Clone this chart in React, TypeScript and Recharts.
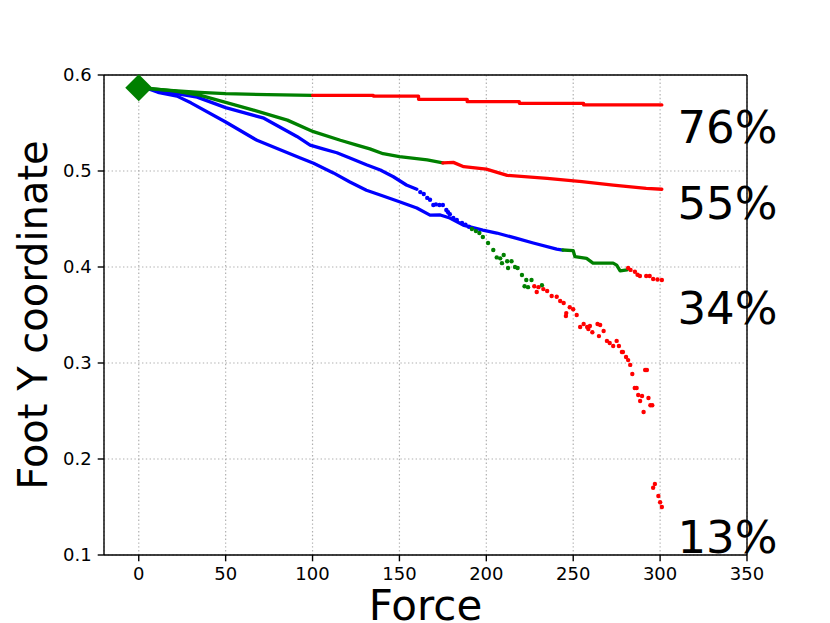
import React from 'react';
import {
  ComposedChart,
  Line,
  Scatter,
  XAxis,
  YAxis,
  CartesianGrid,
  ReferenceLine,
  Label,
} from 'recharts';

// ---------- axis ticks ----------
const xTicks = [0, 50, 100, 150, 200, 250, 300, 350];
const yTicks = [0.1, 0.2, 0.3, 0.4, 0.5, 0.6];

// ---------- start marker ----------
const startPoint: [number, number][] = [[0, 0.5868]];

// ---------- curve A (76%) ----------
const aGreen: [number, number][] = [
  [5, 0.586], [18, 0.584], [35, 0.582], [50, 0.5805], [74, 0.5795], [100, 0.5788],
];
const aRed: [number, number][] = [
  [100, 0.5788], [135, 0.578], [161, 0.5747], [189, 0.5722], [219, 0.5705], [256, 0.5688], [301, 0.5688],
];

// ---------- curve B (55%) ----------
const bGreen: [number, number][] = [
  [5, 0.586], [20, 0.5835], [35, 0.579], [49, 0.572], [66, 0.5635], [85.5, 0.553], [100.5, 0.541],
  [116, 0.532], [125.5, 0.527], [133, 0.523], [140.6, 0.518], [150, 0.515], [166, 0.5115], [175, 0.5085],
];
const bRed: [number, number][] = [
  [175, 0.5085], [181, 0.509], [187, 0.5045], [200, 0.502], [212, 0.4955], [235, 0.4924],
  [255, 0.489], [273, 0.4854], [292, 0.482], [301, 0.481],
];

// ---------- curve C (34%) ----------
const cBlue: [number, number][] = [
  [5, 0.586], [11, 0.582], [22, 0.578], [30, 0.571], [50, 0.551], [68, 0.532], [93, 0.5135],
  [100.6, 0.508], [112, 0.498], [121.5, 0.4885], [131, 0.48], [140.6, 0.474], [150, 0.468],
  [160, 0.4615], [167.6, 0.454], [173.5, 0.4542], [179, 0.451], [186.7, 0.4437], [190.6, 0.4417],
  [198, 0.4385], [206, 0.4354], [217, 0.43], [227, 0.425], [240.5, 0.4187], [244, 0.4177],
];
const cGreen: [number, number][] = [
  [244, 0.4177], [250, 0.417], [251, 0.4107], [257.7, 0.409], [261.4, 0.404], [273, 0.404],
  [275, 0.402], [277, 0.396], [281, 0.397],
];
const cRedDots: [number, number][] = [
  [281.6, 0.399], [283, 0.397], [285.5, 0.395], [287, 0.392], [288.4, 0.3906], [292, 0.3906],
  [294, 0.3906], [296, 0.3875], [298.5, 0.387], [301, 0.3865],
];

// ---------- curve D (13%) ----------
const dBlue: [number, number][] = [
  [5, 0.586], [20, 0.581], [33.6, 0.577], [50, 0.566], [72, 0.555], [91, 0.536], [98.6, 0.527],
  [106, 0.523], [114, 0.519], [121.5, 0.5135], [131, 0.5065], [139, 0.501], [146.5, 0.494],
  [154, 0.4854], [160, 0.481],
];
const dBlueDots: [number, number][] = [
  [162, 0.478], [164, 0.476], [166, 0.472], [167.6, 0.47], [169.5, 0.4646], [171, 0.4652],
  [173, 0.4646], [175, 0.4646], [177, 0.4594], [178, 0.457], [179, 0.455], [181, 0.451],
  [183, 0.449], [186, 0.446], [188, 0.444], [190, 0.442],
];
const dGreenDots: [number, number][] = [
  [191.7, 0.4396], [194, 0.4375], [196, 0.4354], [198, 0.4312], [201, 0.425], [204, 0.4177],
  [206, 0.41], [208, 0.409], [210, 0.4125], [209, 0.404], [212, 0.406], [214.5, 0.406],
  [212.5, 0.399], [216.5, 0.4], [218, 0.399], [220.5, 0.3917], [223, 0.3865], [226, 0.3865],
  [222, 0.38], [224, 0.379], [232, 0.381],
];
const dRedDots: [number, number][] = [
  [227.6, 0.38], [230, 0.379], [229, 0.374], [232.8, 0.377], [235, 0.375], [237.6, 0.3698],
  [240.5, 0.369], [242.5, 0.3646], [244.5, 0.3625], [248, 0.358], [250, 0.356], [246, 0.352],
  [245.8, 0.349], [252, 0.35], [254, 0.3375], [256, 0.3406], [258, 0.3375], [259.6, 0.3385],
  [258.7, 0.3354], [261, 0.332], [264, 0.3406], [265.5, 0.3396], [267.5, 0.3333], [264.8, 0.328],
  [269.4, 0.323], [271, 0.3208], [273, 0.3177], [275, 0.323], [276.3, 0.3177], [278, 0.3115],
  [278.6, 0.3115], [280.4, 0.3063], [281.6, 0.303], [282.8, 0.298], [284, 0.2885], [291.4, 0.2927],
  [292.4, 0.2927], [285.4, 0.274], [286.5, 0.274], [287.4, 0.2667], [289.6, 0.2656], [288.5, 0.2604],
  [293.3, 0.2635], [294.4, 0.256], [295.5, 0.256], [290.5, 0.249], [297, 0.174], [296, 0.17],
  [299, 0.1615], [300, 0.155], [301, 0.15],
];

// ---------- percent annotations ----------
const pctLabels = ['76%', '55%', '34%', '13%'];
const pctX = [310, 310, 310, 310];
const pctY = [0.529, 0.45, 0.3406, 0.1021];

const toPts = (arr: [number, number][]) => arr.map(([x, y]) => ({ x, y }));

const GREEN = '#008000';
const BLUE = '#0000ff';
const RED = '#ff0000';
const FONT = 'DejaVu Sans, sans-serif';

const pctData = pctLabels.map((label, i) => ({ x: pctX[i], y: pctY[i], label }));

const dotShape = (color: string) => (props: any) => (
  <circle cx={props.cx} cy={props.cy} r={2.2} fill={color} />
);

const diamondShape = (props: any) => {
  const { cx, cy } = props;
  const h = 13.5;
  return (
    <polygon
      points={`${cx},${cy - h} ${cx + h},${cy} ${cx},${cy + h} ${cx - h},${cy}`}
      fill={GREEN}
    />
  );
};

const pctShape = (props: any) => (
  <text
    x={props.cx}
    y={props.cy}
    fontSize={45}
    fontFamily={FONT}
    fill="#000"
    textAnchor="start"
  >
    {props.payload.label}
  </text>
);

const XLabel = (props: any) => {
  const vb = props.viewBox || { x: 104, width: 643 };
  return (
    <text x={vb.x + vb.width / 2} y={620} textAnchor="middle" fontSize={42} fontFamily={FONT} fill="#000">
      Force
    </text>
  );
};

const YLabel = (props: any) => {
  const vb = props.viewBox || { y: 75, height: 480 };
  const cy = vb.y + vb.height / 2;
  return (
    <text
      transform={`translate(47, ${cy}) rotate(-90)`}
      x={0}
      y={0}
      textAnchor="middle"
      fontSize={40}
      fontFamily={FONT}
      fill="#000"
    >
      Foot Y coordinate
    </text>
  );
};

const lineProps = {
  dataKey: 'y',
  dot: false,
  activeDot: false,
  isAnimationActive: false,
  strokeWidth: 3.3,
  strokeLinecap: 'round' as const,
  strokeLinejoin: 'round' as const,
  legendType: 'none' as const,
};

export default function App() {
  return (
    <div style={{ position: 'absolute', left: 0, top: 0, width: 830, height: 623, background: '#fff' }}>
      <ComposedChart width={830} height={623} margin={{ top: 75, right: 83, bottom: 0, left: 0 }}>
        <CartesianGrid stroke="#b0b0b0" strokeDasharray="1.4 2.4" strokeWidth={1.2} />
        <XAxis
          type="number"
          dataKey="x"
          domain={[-20, 350]}
          ticks={xTicks}
          height={68}
          tick={{ fill: '#000', fontSize: 18, fontFamily: FONT }}
          tickSize={6.3}
          tickMargin={6}
          axisLine={{ stroke: '#000', strokeWidth: 1.4 }}
          tickLine={{ stroke: '#000', strokeWidth: 1.4 }}
        >
          <Label content={XLabel} />
        </XAxis>
        <YAxis
          type="number"
          dataKey="y"
          domain={[0.1, 0.6]}
          ticks={yTicks}
          width={104}
          tickFormatter={(v: number) => v.toFixed(1)}
          tick={{ fill: '#000', fontSize: 18, fontFamily: FONT }}
          tickSize={6.3}
          tickMargin={6}
          axisLine={{ stroke: '#000', strokeWidth: 1.4 }}
          tickLine={{ stroke: '#000', strokeWidth: 1.4 }}
        >
          <Label content={YLabel} />
        </YAxis>
        <ReferenceLine y={0.6} stroke="#000" strokeWidth={1.4} />
        <ReferenceLine x={350} stroke="#000" strokeWidth={1.4} />

        <Line {...lineProps} data={toPts(cBlue)} stroke={BLUE} />
        <Line {...lineProps} data={toPts(dBlue)} stroke={BLUE} />
        <Line {...lineProps} data={toPts(aGreen)} stroke={GREEN} />
        <Line {...lineProps} data={toPts(bGreen)} stroke={GREEN} />
        <Line {...lineProps} data={toPts(cGreen)} stroke={GREEN} />
        <Line {...lineProps} data={toPts(aRed)} stroke={RED} type="stepAfter" />
        <Line {...lineProps} data={toPts(bRed)} stroke={RED} />

        <Scatter data={toPts(dBlueDots)} shape={dotShape(BLUE)} isAnimationActive={false} legendType="none" />
        <Scatter data={toPts(dGreenDots)} shape={dotShape(GREEN)} isAnimationActive={false} legendType="none" />
        <Scatter data={toPts(dRedDots)} shape={dotShape(RED)} isAnimationActive={false} legendType="none" />
        <Scatter data={toPts(cRedDots)} shape={dotShape(RED)} isAnimationActive={false} legendType="none" />
        <Scatter data={toPts(startPoint)} shape={diamondShape} isAnimationActive={false} legendType="none" />
        <Scatter data={pctData} shape={pctShape} isAnimationActive={false} legendType="none" />
      </ComposedChart>
    </div>
  );
}
